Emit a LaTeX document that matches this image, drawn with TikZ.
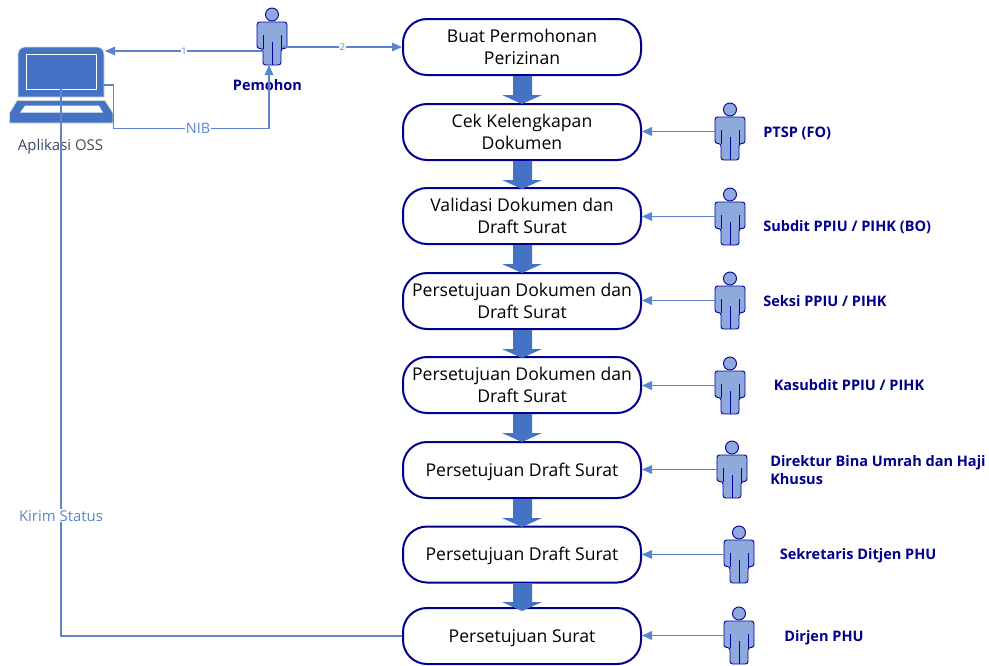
\documentclass[tikz,border=0pt]{standalone}
\usepackage{fontspec}
\setmainfont{Open Sans}
\usetikzlibrary{arrows.meta,calc}
\definecolor{navy}{HTML}{00008B}
\definecolor{lineblue}{HTML}{5B85CF}
\definecolor{blockblue}{HTML}{4472C4}
\definecolor{personfill}{HTML}{8EA9DB}
\definecolor{labelgrey}{HTML}{3B4A5E}
\tikzset{
  flowbox/.style={draw=navy,line width=1.5pt,rounded corners=18,fill=white,minimum width=178.5pt,minimum height=42pt,inner sep=0pt,align=center,font=\fontsize{13.2}{16.5}\selectfont,text=black},
  personbox/.style={minimum width=22.5pt,minimum height=42.75pt,inner sep=0pt},
  personlabel/.style={text=navy,font=\fontsize{10.9}{13.5}\selectfont\bfseries,align=left,inner sep=0pt},
  conn/.style={draw=lineblue,line width=0.9pt,-{Triangle[length=7.5pt,width=6.5pt]}},
  edgelabel/.style={fill=white,inner sep=0.6pt,text=lineblue},
  blockarrow/.style={fill=blockblue,draw=none},
}
\newcommand{\personat}[3]{%
  \node[personbox] (#1) at (#2,#3) {};
  \begin{scope}[shift={(#2,#3)},draw=navy!85!blue,fill=personfill,line width=0.7pt]
    \filldraw (0,-22) circle (6.5);
    \filldraw[rounded corners=2] (-15,12) -- (-15,-14.5) -- (15,-14.5) -- (15,12) -- (9,12) -- (9,28.5) -- (-9,28.5) -- (-9,12) -- cycle;
    \draw (-9,12) -- (-9,-2);
    \draw (9,12) -- (9,-2);
    \draw (0,28.5) -- (0,5);
  \end{scope}}
\newcommand{\blockdown}[1]{%
  \fill[blockarrow] (513,#1) -- (532,#1) -- ++(0,19) -- ++(10,0) -- (522,#1+28) -- (502,#1+19) -- (513,#1+19) -- cycle;}
\begin{document}
\begin{tikzpicture}[x=0.75pt,y=-0.75pt]
\useasboundingbox (0,0) rectangle (989,665);
% boxes
\node[flowbox] (b1) at (522,47) {Buat Permohonan\\Perizinan};
\node[flowbox] (b2) at (522,132) {Cek Kelengkapan\\Dokumen};
\node[flowbox] (b3) at (522,216) {Validasi Dokumen dan\\Draft Surat};
\node[flowbox] (b4) at (522,301) {Persetujuan Dokumen dan\\Draft Surat};
\node[flowbox] (b5) at (522,385) {Persetujuan Dokumen dan\\Draft Surat};
\node[flowbox,text depth=0pt,text height=9.5pt] (b6) at (522,470) {Persetujuan Draft Surat};
\node[flowbox,text depth=0pt,text height=9.5pt] (b7) at (522,554.5) {Persetujuan Draft Surat};
\node[flowbox,text depth=0pt,text height=9.5pt] (b8) at (522,636) {Persetujuan Surat};
% block arrows
\blockdown{76}\blockdown{161}\blockdown{245}\blockdown{330}\blockdown{414}\blockdown{499}\blockdown{583}
% laptop
\node[minimum width=78pt,minimum height=55pt,inner sep=0pt] (oss) at (61,85) {};
\coordinate (ossend) at (61,89);
\filldraw[fill=blockblue,draw=black!15,line width=0.6pt] (18,97) -- (18,54) arc[start angle=180,end angle=270,radius=7] -- (97,47) arc[start angle=270,end angle=360,radius=7] -- (104,97) -- cycle;
\draw[white,line width=0.7pt] (26,54) rectangle (96.7,89.3);
\filldraw[fill=blockblue,draw=black!15,line width=0.6pt] (17,100.5) -- (105,100.5) -- (113,113) -- (113,123) -- (9.5,123) -- (9.5,113) -- cycle;
\fill[white] (25,105.7) -- (99,105.7) -- (103,112.7) -- (20,112.7) -- cycle;
\node[text=labelgrey,font=\fontsize{11.2}{13}\selectfont,inner sep=0pt] (osslabel) at (60.5,146.5) {Aplikasi OSS};
% persons
\personat{p0}{272}{36.5}
\personat{p1}{730}{131.5}
\personat{p2}{730}{216.5}
\personat{p3}{730}{300.5}
\personat{p4}{730}{385.5}
\personat{p5}{732}{469.5}
\personat{p6}{739}{554.5}
\personat{p7}{739}{635.5}
% labels
\node[personlabel,anchor=center] (l0) at (267.5,85.5) {Pemohon};
\node[personlabel,anchor=west] (l1) at (763,133) {PTSP (FO)};
\node[personlabel,anchor=west] (l2) at (763,227) {Subdit PPIU / PIHK (BO)};
\node[personlabel,anchor=west] (l3) at (763,301.5) {Seksi PPIU / PIHK};
\node[personlabel,anchor=west] (l4) at (773.5,385.5) {Kasubdit PPIU / PIHK};
\node[personlabel,anchor=west] (l5) at (770,470) {Direktur Bina Umrah dan Haji\\Khusus};
\node[personlabel,anchor=west] (l6) at (779.5,556) {Sekretaris Ditjen PHU};
\node[personlabel,anchor=west] (l7) at (784,638) {Dirjen PHU};
% connectors
\draw[conn] ($(p0.center)+(-9,14.5)$) -- node[edgelabel,font=\fontsize{7}{8}\selectfont]{1} ($(oss.center)+(44,-34)$);
\draw[conn] ($(p0.center)+(11,10.5)$) -- node[edgelabel,font=\fontsize{7}{8}\selectfont]{2} (b1.west);
\draw[conn] ($(oss.center)+(43,0)$) -- ++(9.5,0) |- (198,128.5) -| node[pos=0,edgelabel,font=\fontsize{10.8}{12}\selectfont]{NIB} ($(p0.center)+(-3,28.5)$);
\draw[conn] (p1.west) -- (b2.east |- p1.west);
\draw[conn] (p2.west) -- (b3.east |- p2.west);
\draw[conn] (p3.west) -- (b4.east |- p3.west);
\draw[conn] (p4.west) -- (b5.east |- p4.west);
\draw[conn] (p5.west) -- (b6.east |- p5.west);
\draw[conn] (p6.west) -- (b7.east |- p6.west);
\draw[conn] (p7.west) -- (b8.east |- p7.west);
\draw[draw=lineblue,line width=0.9pt] (b8.west) -| node[pos=0.61,edgelabel,font=\fontsize{11.2}{13}\selectfont]{Kirim Status} (ossend);
\end{tikzpicture}
\end{document}
